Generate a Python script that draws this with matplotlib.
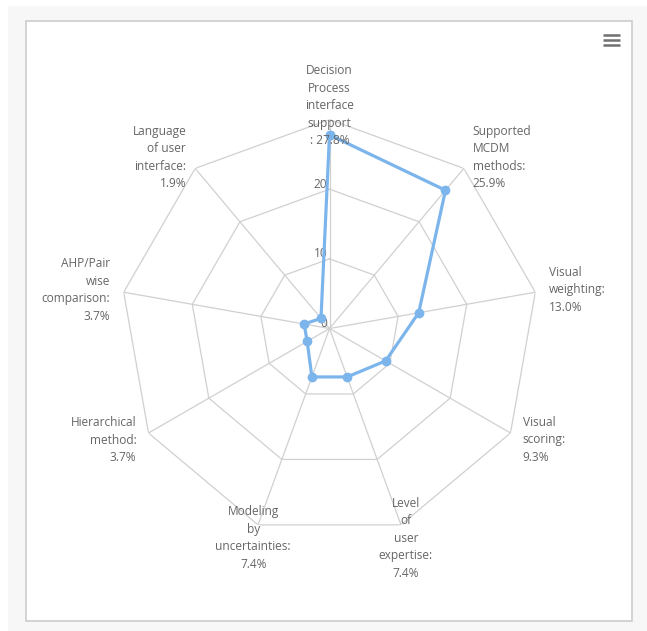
import numpy as np
import matplotlib.pyplot as plt
from matplotlib.patches import Rectangle

plt.rcParams['font.family'] = ['Open Sans', 'DejaVu Sans']

# categories clockwise from the top, with the share of each
labels = ["Decision\nProcess\ninterface\nsupport\n: 27.8%",
          "Supported\nMCDM\nmethods:\n25.9%",
          "Visual\nweighting:\n13.0%",
          "Visual\nscoring:\n9.3%",
          "Level\nof\nuser\nexpertise:\n7.4%",
          "Modeling\nby\nuncertainties:\n7.4%",
          "Hierarchical\nmethod:\n3.7%",
          "AHP/Pair\nwise\ncomparison:\n3.7%",
          "Language\nof user\ninterface:\n1.9%"]
values = [27.8, 25.9, 13.0, 9.3, 7.4, 7.4, 3.7, 3.7, 1.9]
yticks = [0, 10, 20]
ymax = 30

W, H = 647, 631
fig = plt.figure(figsize=(W / 100, H / 100), dpi=100, facecolor='white')

# outer light gray band and white panel with border
fig.patches.append(Rectangle((8 / W, 0), 1 - 8 / W, 1 - 6 / H, transform=fig.transFigure,
                             facecolor='#f7f7f7', edgecolor='none', zorder=-3))
fig.patches.append(Rectangle((26 / W, (H - 621) / H), (632 - 26) / W, (621 - 21) / H,
                             transform=fig.transFigure, facecolor='white',
                             edgecolor='#cccccc', linewidth=1.2, zorder=-2))

# hamburger menu icon
for yy in [34.5, 39.5, 44.5]:
    fig.add_artist(plt.Line2D([603 / W, 620 / W], [1 - yy / H, 1 - yy / H],
                              color='#707070', linewidth=1.8, solid_capstyle='butt'))

cx, cy, R = 329.5, 328.5, 209
ax = fig.add_axes([(cx - R) / W, (H - cy - R) / H, 2 * R / W, 2 * R / H], projection='polar')
ax.set_facecolor('none')
ax.set_theta_zero_location('N')
ax.set_theta_direction(-1)
ax.set_ylim(0, ymax)
ax.grid(False)
ax.set_xticks([])
ax.set_yticks([])
ax.spines['polar'].set_visible(False)

n = len(values)
angles = np.arange(n) * 2 * np.pi / n
closed = np.append(angles, angles[0])

grid_col = '#d0d0d0'
for r in [10, 20, ymax]:
    ax.plot(closed, [r] * (n + 1), color=grid_col, linewidth=0.9, zorder=1)
for a in angles:
    ax.plot([a, a], [0, ymax], color=grid_col, linewidth=0.9, zorder=1)

ax.plot(closed, values + [values[0]], color='#7cb5ec', linewidth=2.3,
        marker='o', markersize=6, zorder=3, clip_on=False)

for t in yticks:
    ax.annotate(str(t), xy=(0, t), xytext=(-2, 5), textcoords='offset pixels',
                ha='right', va='center', fontsize=8.6, color='#666666', zorder=2)

r_lab = ymax * 223 / 209
for a, lab in zip(angles, labels):
    s = np.sin(a)
    if s > 0.5:
        ha = 'left'
    elif s < -0.5:
        ha = 'right'
    else:
        ha = 'center'
    ax.text(a, r_lab, lab, ha=ha, va='center', multialignment=ha,
            fontsize=8.6, color='#666666', linespacing=1.45, zorder=4)

fig.savefig('out.png', dpi=100, facecolor=fig.get_facecolor())
